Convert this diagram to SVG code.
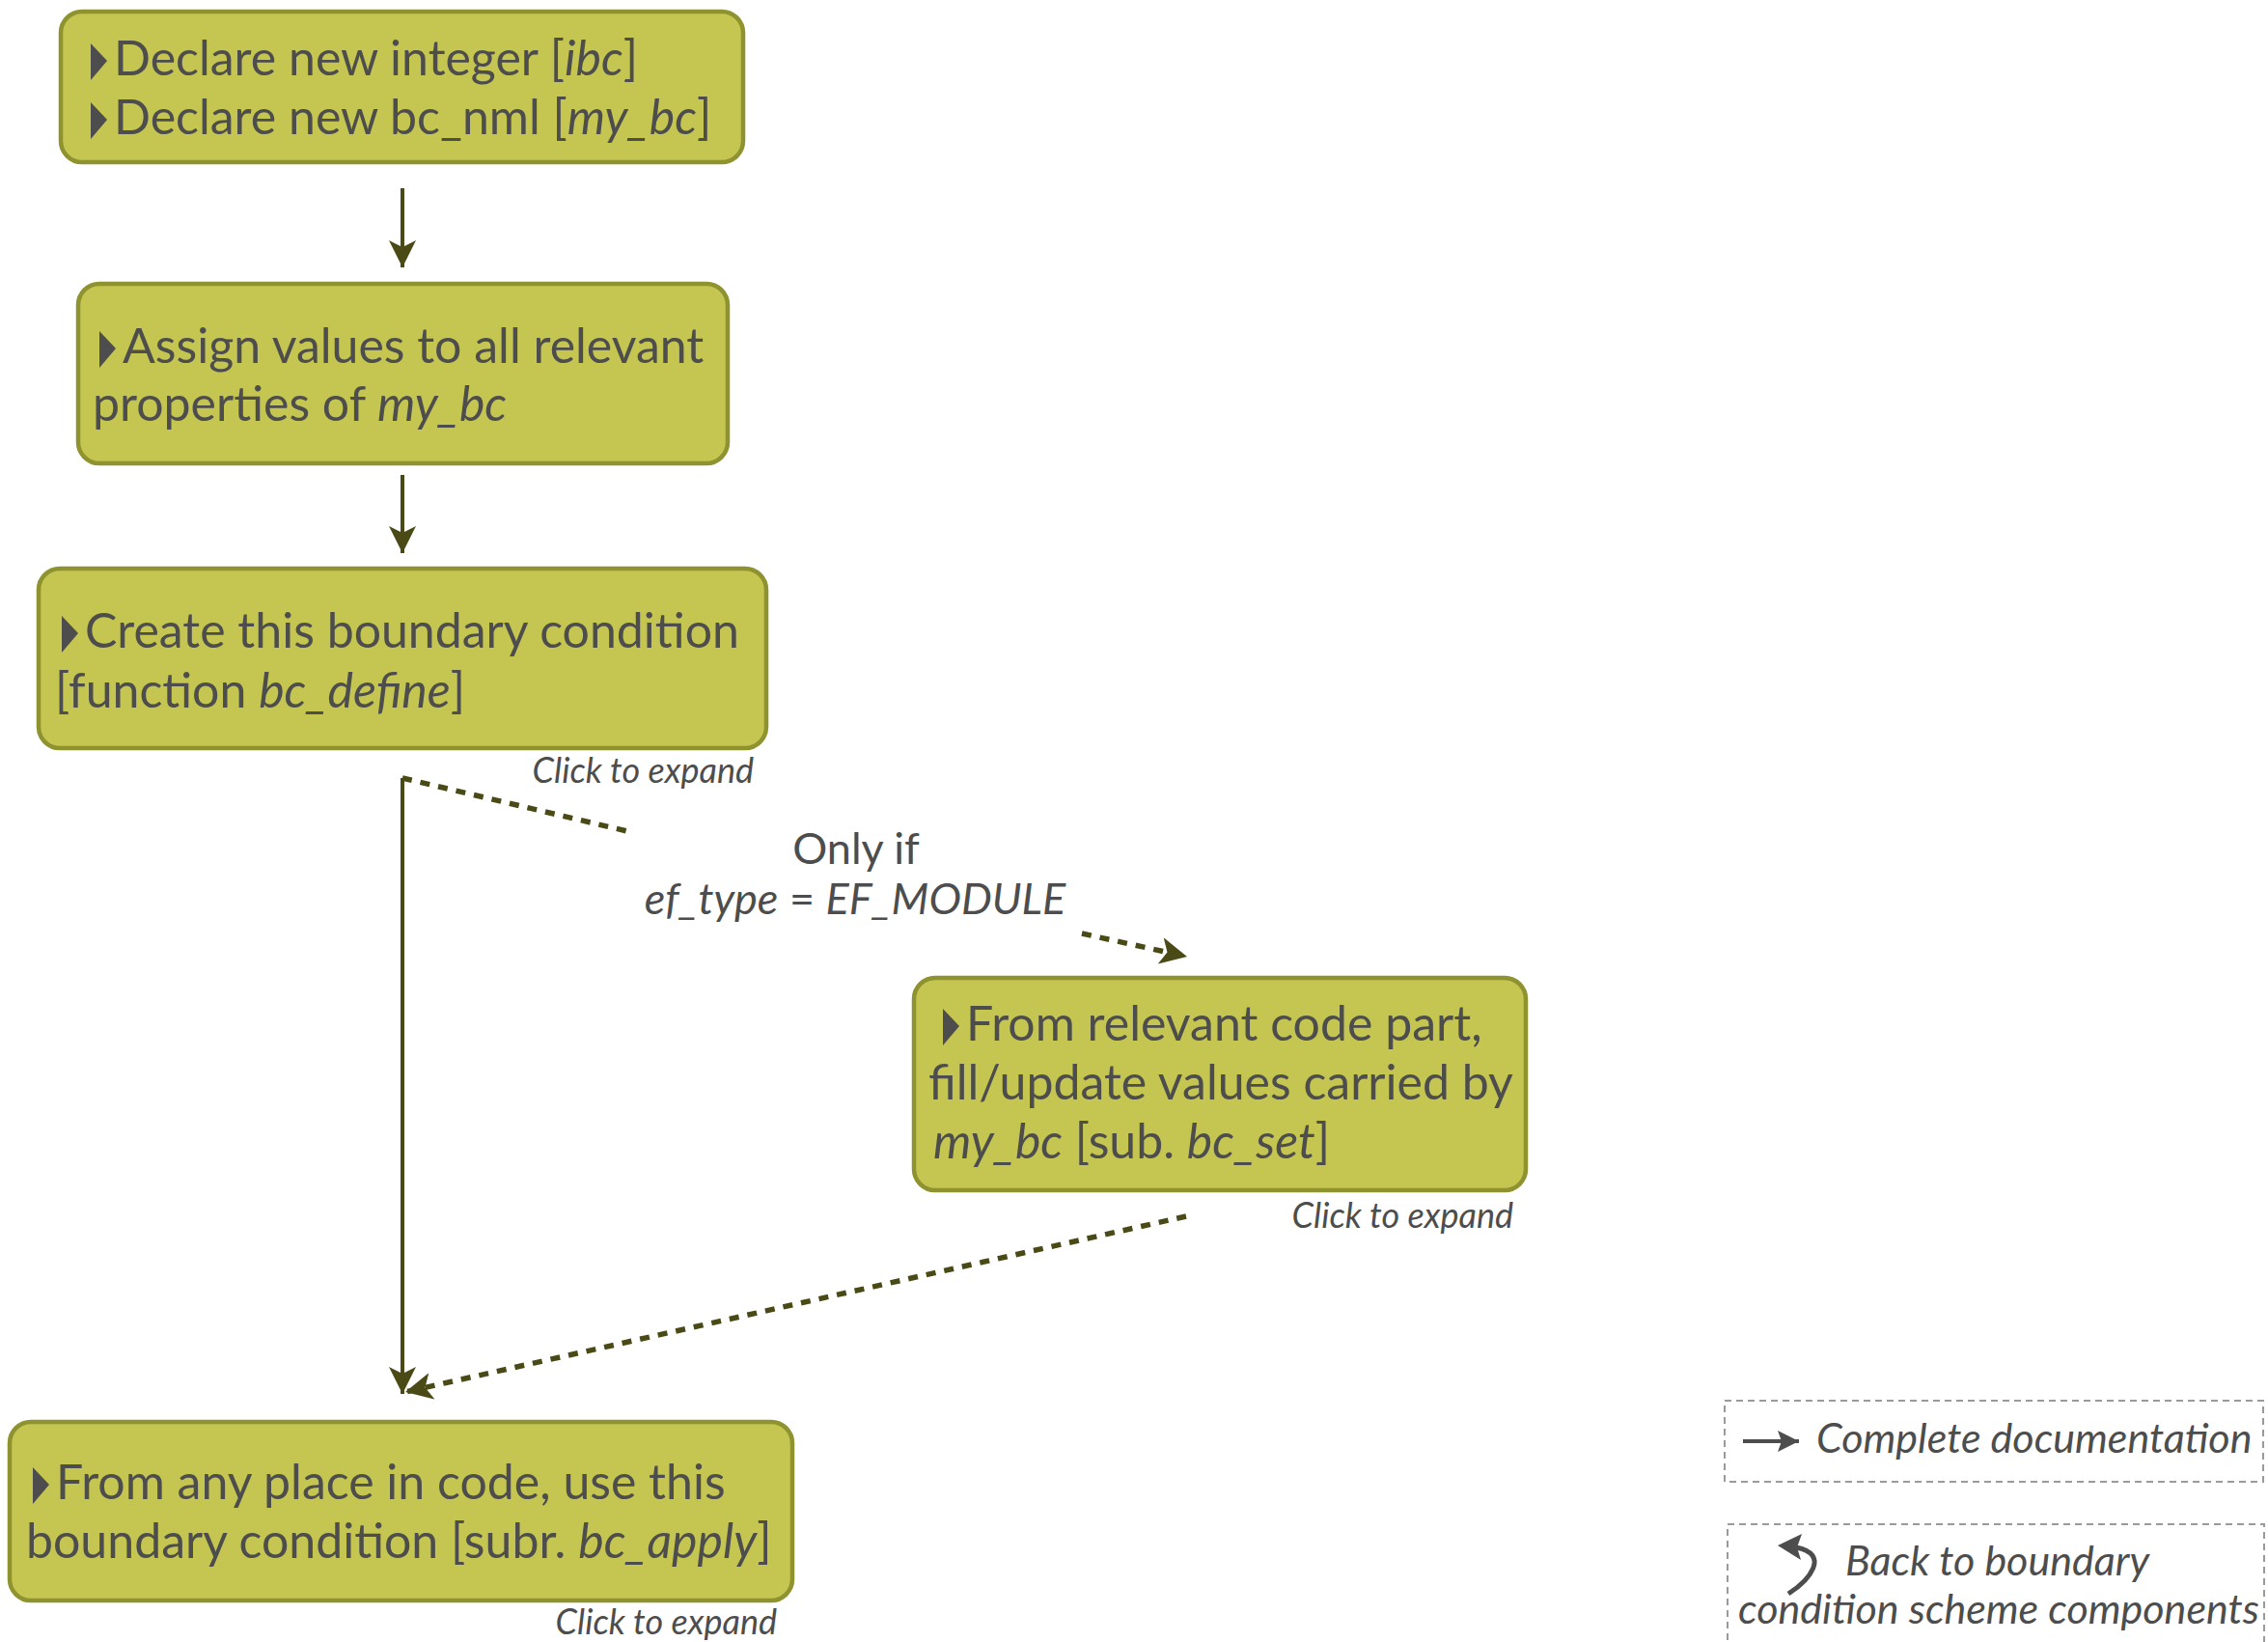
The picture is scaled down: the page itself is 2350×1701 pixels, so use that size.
<svg xmlns="http://www.w3.org/2000/svg" width="2350" height="1701" viewBox="0 0 2350 1701">
  <style>
    .box { fill: #c5c552; stroke: #8e922f; stroke-width: 4.5; }
    .txt { font-family: Lato, "Open Sans", "DejaVu Sans", sans-serif; font-size: 50px; fill: #4d4d4d; }
    .cond { font-family: Lato, "Open Sans", "DejaVu Sans", sans-serif; font-size: 45px; fill: #4d4d4d; }
    .it { font-style: italic; }
    .note { font-family: Lato, "Open Sans", "DejaVu Sans", sans-serif; font-size: 36px; font-style: italic; fill: #4d4d4d; }
    .legend { font-family: Lato, "Open Sans", "DejaVu Sans", sans-serif; font-size: 43px; font-style: italic; fill: #4d4d4d; }
    .bullet { fill: #4d4d4d; }
    .solid { fill: none; stroke: #4a4a16; stroke-width: 4; }
    .dash { fill: none; stroke: #4a4a16; stroke-width: 5.5; stroke-dasharray: 10 9; }
    .lbox { fill: none; stroke: #9a9a9a; stroke-width: 2; stroke-dasharray: 7 5; }
  </style>
  <defs>
    <marker id="head" markerUnits="userSpaceOnUse" viewBox="0 0 30 28" markerWidth="30" markerHeight="28" refX="28" refY="14" orient="auto">
      <path d="M0,0 L28,14 L0,28 L7,14 Z" fill="#4a4a16"/>
    </marker>
    <marker id="lhead" markerUnits="userSpaceOnUse" viewBox="0 0 24 22" markerWidth="24" markerHeight="22" refX="22" refY="11" orient="auto">
      <path d="M0,0 L22,11 L0,22 L4,11 Z" fill="#4d4d4d"/>
    </marker>
  </defs>

  <!-- connectors -->
  <g id="connectors">
    <line class="solid" x1="417" y1="195" x2="417" y2="277" marker-end="url(#head)"/>
    <line class="solid" x1="417" y1="492" x2="417" y2="573" marker-end="url(#head)"/>
    <line class="solid" x1="417" y1="806" x2="417" y2="1444" marker-end="url(#head)"/>
    <line class="dash" x1="417" y1="806" x2="654" y2="862"/>
    <line class="dash" x1="1121" y1="967" x2="1230" y2="991" marker-end="url(#head)"/>
    <line class="dash" x1="1229" y1="1260" x2="420" y2="1442" marker-end="url(#head)"/>
    <text class="cond" x="887" y="895" text-anchor="middle">Only if</text>
    <text class="cond" x="886" y="947" text-anchor="middle"><tspan class="it">ef_type</tspan> = <tspan class="it">EF_MODULE</tspan></text>
  </g>

  <!-- declare -->
  <g id="node-declare">
    <rect class="box" x="63" y="12" width="707" height="156" rx="22"/>
    <polygon class="bullet" points="94,45 111,63 94,83"/>
    <text class="txt" x="118" y="78">Declare new integer [<tspan class="it">ibc</tspan>]</text>
    <polygon class="bullet" points="94,106 111,124 94,144"/>
    <text class="txt" x="118" y="139">Declare new bc_nml [<tspan class="it">my_bc</tspan>]</text>
  </g>

  <!-- assign -->
  <g id="node-assign">
    <rect class="box" x="81" y="294" width="673" height="186" rx="22"/>
    <polygon class="bullet" points="103,343 120,361 103,381"/>
    <text class="txt" x="127" y="376">Assign values to all relevant</text>
    <text class="txt" x="96" y="436">properties of <tspan class="it">my_bc</tspan></text>
  </g>

  <!-- define -->
  <g id="node-define">
    <rect class="box" x="40" y="589" width="754" height="186" rx="22"/>
    <polygon class="bullet" points="64,638 81,656 64,676"/>
    <text class="txt" x="88" y="671">Create this boundary condition</text>
    <text class="txt" x="57" y="733">[function <tspan class="it">bc_define</tspan>]</text>
    <text class="note" x="781" y="811" text-anchor="end">Click to expand</text>
  </g>

  <!-- set -->
  <g id="node-set">
    <rect class="box" x="947" y="1013" width="634" height="220" rx="22"/>
    <polygon class="bullet" points="977,1045 994,1063 977,1083"/>
    <text class="txt" x="1001" y="1078">From relevant code part,</text>
    <text class="txt" x="962" y="1139">fill/update values carried by</text>
    <text class="txt" x="967" y="1200"><tspan class="it">my_bc</tspan> [sub. <tspan class="it">bc_set</tspan>]</text>
    <text class="note" x="1568" y="1272" text-anchor="end">Click to expand</text>
  </g>

  <!-- apply -->
  <g id="node-apply">
    <rect class="box" x="10" y="1473" width="811" height="185" rx="22"/>
    <polygon class="bullet" points="34,1520 51,1538 34,1558"/>
    <text class="txt" x="58" y="1553">From any place in code, use this</text>
    <text class="txt" x="27" y="1614">boundary condition [subr. <tspan class="it">bc_apply</tspan>]</text>
    <text class="note" x="805" y="1693" text-anchor="end">Click to expand</text>
  </g>

  <!-- legend links -->
  <g id="link-doc">
    <rect class="lbox" x="1787" y="1451" width="558" height="84"/>
    <line x1="1806" y1="1493" x2="1864" y2="1493" stroke="#4d4d4d" stroke-width="4" marker-end="url(#lhead)"/>
    <text class="legend" x="1882" y="1505">Complete documentation</text>
  </g>
  <g id="link-back">
    <rect class="lbox" x="1790" y="1579" width="556" height="140"/>
    <path d="M1853,1651 C1875,1637 1897,1610 1861,1603" fill="none" stroke="#4d4d4d" stroke-width="5"/>
    <polygon points="1842,1601 1867,1589 1862,1603 1866,1616" fill="#4d4d4d"/>
    <text class="legend" x="1912" y="1632">Back to boundary</text>
    <text class="legend" x="1801" y="1682">condition scheme components</text>
  </g>
</svg>
